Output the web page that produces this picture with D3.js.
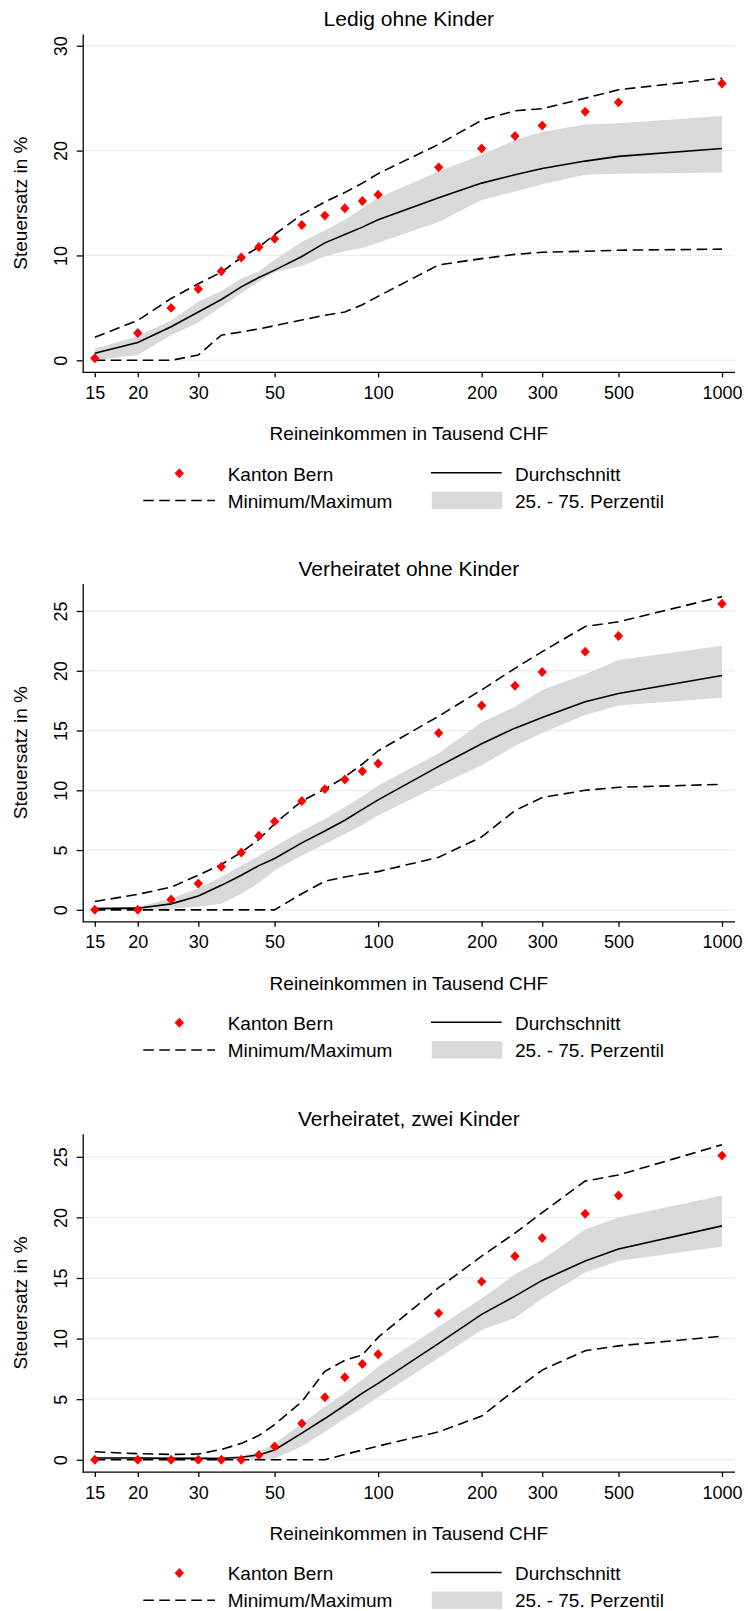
<!DOCTYPE html>
<html><head><meta charset="utf-8">
<script src="https://cdn.jsdelivr.net/npm/d3@7"></script>
<style>
body{margin:0;background:#fff}
svg text{font-family:"Liberation Sans",Arial,Helvetica,sans-serif;fill:#000}
</style>
</head><body>
<svg id="chart" width="748" height="1611"></svg>
<script>
// ---------- data ----------
const incomes = [15,20,25,30,35,40,45,50,60,70,80,90,100,150,200,250,300,400,500,1000];
const panelTitles = ["Ledig ohne Kinder","Verheiratet ohne Kinder","Verheiratet, zwei Kinder"];

const bern1 = [0.2,2.6,5.0,6.8,8.5,9.8,10.8,11.6,12.9,13.8,14.5,15.2,15.8,18.4,20.2,21.4,22.4,23.7,24.6,26.4];
const max1  = [2.2,3.8,5.9,7.3,8.4,9.8,10.8,12.0,13.9,15.1,16.0,16.9,17.8,20.6,22.9,23.8,24.0,25.0,25.8,26.9];
const min1  = [0,0,0,0.5,2.4,2.7,3.0,3.3,3.85,4.3,4.6,5.3,6.1,9.1,9.7,10.1,10.3,10.4,10.5,10.6];
const mean1 = [0.67,1.7,3.2,4.6,5.8,7.0,7.9,8.6,9.9,11.2,12.0,12.7,13.4,15.5,16.9,17.7,18.3,19.0,19.45,20.2];
const p75_1 = [1.1,2.3,3.8,5.6,6.6,7.8,8.5,9.6,11.3,12.4,13.4,14.5,15.5,18.0,19.6,21.0,21.8,22.5,22.6,23.3];
const p25_1 = [0,0.5,2.4,3.6,5.1,6.4,7.5,8.4,9.0,9.9,10.4,10.7,11.2,13.2,15.3,16.1,16.8,17.7,17.8,17.9];

const bern2 = [0,0,0.86,2.2,3.6,4.8,6.2,7.4,9.1,10.1,10.9,11.6,12.25,14.8,17.1,18.75,19.9,21.6,22.9,25.6];
const max2  = [0.7,1.3,1.9,2.9,3.8,4.8,5.9,7.2,9.1,10.1,11.1,12.2,13.3,16.2,18.4,20.2,21.6,23.7,24.1,26.2];
const min2  = [0,0,0,0,0,0,0,0,1.35,2.4,2.75,3.0,3.2,4.4,6.1,8.3,9.4,10.0,10.25,10.5];
const mean2 = [0.1,0.14,0.5,1.15,2.05,2.9,3.7,4.3,5.6,6.6,7.5,8.4,9.2,12.0,13.9,15.2,16.1,17.4,18.1,19.6];
const p75_2 = [0.2,0.25,0.95,1.8,2.75,3.7,4.5,5.3,6.6,7.6,8.6,9.5,10.4,13.1,15.7,17.0,18.4,19.7,20.9,22.1];
const p25_2 = [0,0,0.1,0.25,0.5,1.35,2.25,3.3,4.55,5.5,6.35,7.1,7.9,10.4,12.1,13.7,14.8,16.3,17.1,17.75];

const bern3 = [0,0,0,0,0,0,0.4,1.1,3.0,5.15,6.8,7.9,8.7,12.1,14.7,16.8,18.3,20.3,21.8,25.1];
const max3  = [0.66,0.5,0.44,0.47,0.85,1.35,2.0,2.9,4.8,7.3,8.2,8.65,10.1,14.2,16.8,18.7,20.4,23.0,23.5,26.0];
const min3  = [0,0,0,0,0,0,0,0,0,0,0.44,0.8,1.13,2.3,3.6,5.75,7.4,9.0,9.4,10.2];
const mean3 = [0.14,0.14,0.11,0.11,0.1,0.2,0.4,0.8,2.2,3.4,4.5,5.5,6.3,9.6,12.0,13.5,14.8,16.4,17.4,19.3];
const p75_3 = [0.25,0.2,0.2,0.2,0.2,0.3,0.66,1.35,3.0,4.4,5.5,6.6,7.7,11.0,13.3,15.3,16.5,19.0,20.0,21.8];
const p25_3 = [0,0,0,0,0,0,0,0.1,1.1,2.3,3.4,4.3,5.15,8.4,10.7,11.7,13.3,15.45,16.4,17.6];

const xTicks = [15,20,30,50,100,200,300,500,1000];
const yTicks1 = [0,10,20,30];
const yTicks23 = [0,5,10,15,20,25];
const yDomains = [[-1.144,31.12],[-1.0,27.3],[-1.02,26.9]];

const xLabel = "Reineinkommen in Tausend CHF";
const yLabel = "Steuersatz in %";
const legendLabels = ["Kanton Bern","Durchschnitt","Minimum/Maximum","25. - 75. Perzentil"];

// ---------- panels ----------
const panels = [
  {title: panelTitles[0], bern: bern1, max: max1, min: min1, mean: mean1, p75: p75_1, p25: p25_1, yTicks: yTicks1, yDomain: yDomains[0]},
  {title: panelTitles[1], bern: bern2, max: max2, min: min2, mean: mean2, p75: p75_2, p25: p25_2, yTicks: yTicks23, yDomain: yDomains[1]},
  {title: panelTitles[2], bern: bern3, max: max3, min: min3, mean: mean3, p75: p75_3, p25: p25_3, yTicks: yTicks23, yDomain: yDomains[2]}
];

// ---------- layout ----------
const offsets = [0, 549.5, 1099.8];
const L = 82.7, R = 735, T = 34, B = 372.3;
const DASH = "10.5,5.5";
const GRID = "#e8f0f2";
const BAND = "#d9d9d9";
const RED = "#ff0000";

const svg = d3.select("#chart");
const x = d3.scaleLog().domain([15, 1000]).range([94.8, 722]);

const diamondType = {
  draw(ctx, size) {
    const s = Math.sqrt(size) / 2;
    const h = s * 1.05, w = s * 0.98;
    ctx.moveTo(0, -h); ctx.lineTo(w, 0); ctx.lineTo(0, h); ctx.lineTo(-w, 0); ctx.closePath();
  }
};
const diamond = d3.symbol().type(diamondType).size(90);

panels.forEach((p, i) => {
  const g = svg.append("g").attr("transform", `translate(0,${offsets[i]})`);
  const y = d3.scaleLinear().domain(p.yDomain).range([B, T]);
  const rows = incomes.map((inc, k) => ({inc, bern: p.bern[k], max: p.max[k], min: p.min[k], mean: p.mean[k], p75: p.p75[k], p25: p.p25[k]}));

  // title
  g.append("text").attr("x", (L + R) / 2).attr("y", 26).attr("text-anchor", "middle")
    .style("font-size", "21px").text(p.title);

  // gridlines
  g.append("g").selectAll("line").data(p.yTicks).join("line")
    .attr("x1", L).attr("x2", R).attr("y1", d => y(d)).attr("y2", d => y(d))
    .attr("stroke", GRID).attr("stroke-width", 1.3);

  // band
  g.append("path").datum(rows)
    .attr("d", d3.area().x(d => x(d.inc)).y0(d => y(d.p25)).y1(d => y(d.p75)))
    .attr("fill", BAND);

  // min / max
  ["max", "min"].forEach(key => {
    g.append("path").datum(rows)
      .attr("d", d3.line().x(d => x(d.inc)).y(d => y(d[key])))
      .attr("fill", "none").attr("stroke", "#000").attr("stroke-width", 1.6)
      .attr("stroke-dasharray", DASH);
  });

  // mean
  g.append("path").datum(rows)
    .attr("d", d3.line().x(d => x(d.inc)).y(d => y(d.mean)))
    .attr("fill", "none").attr("stroke", "#000").attr("stroke-width", 1.6);

  // Kanton Bern
  g.append("g").selectAll("path").data(rows).join("path")
    .attr("d", diamond)
    .attr("transform", d => `translate(${x(d.inc)},${y(d.bern)})`)
    .attr("fill", RED);

  // y axis
  const ya = g.append("g").attr("transform", `translate(${L},0)`)
    .call(d3.axisLeft(y).tickValues(p.yTicks).tickSize(6).tickSizeOuter(0).tickFormat(d3.format("d")));
  ya.select(".domain").attr("stroke", "#000").attr("stroke-width", 1.3);
  ya.selectAll(".tick line").attr("stroke", "#000").attr("stroke-width", 1.3);
  ya.selectAll(".tick text")
    .attr("transform", "rotate(-90)").attr("x", 0).attr("y", -15.7).attr("dy", 0)
    .attr("text-anchor", "middle").style("font-size", "18px")
    .style("font-family", '"Liberation Sans",Arial,Helvetica,sans-serif').attr("fill", "#000");

  // x axis
  const xa = g.append("g").attr("transform", `translate(0,${B})`)
    .call(d3.axisBottom(x).tickValues(xTicks).tickSize(5).tickSizeOuter(0).tickFormat(d3.format("d")));
  xa.select(".domain").remove();
  xa.append("line").attr("x1", L).attr("x2", R).attr("y1", 0).attr("y2", 0)
    .attr("stroke", "#000").attr("stroke-width", 1.3);
  xa.selectAll(".tick line").attr("stroke", "#000").attr("stroke-width", 1.3);
  xa.selectAll(".tick text").attr("y", 26.7).attr("dy", 0)
    .style("font-size", "18px")
    .style("font-family", '"Liberation Sans",Arial,Helvetica,sans-serif').attr("fill", "#000");

  // axis titles
  g.append("text").attr("x", (L + R) / 2).attr("y", 440).attr("text-anchor", "middle")
    .style("font-size", "19px").text(xLabel);
  g.append("text").attr("transform", `translate(27,${(T + B) / 2}) rotate(-90)`)
    .attr("text-anchor", "middle").style("font-size", "19px").text(yLabel);

  // legend
  const lg = g.append("g");
  lg.append("path").attr("d", diamond).attr("transform", "translate(179.3,473.3)").attr("fill", RED);
  lg.append("text").attr("x", 227.7).attr("y", 480.7).style("font-size", "19px").text(legendLabels[0]);
  lg.append("line").attr("x1", 431).attr("x2", 501.7).attr("y1", 472.7).attr("y2", 472.7)
    .attr("stroke", "#000").attr("stroke-width", 1.6);
  lg.append("text").attr("x", 515).attr("y", 480.7).style("font-size", "19px").text(legendLabels[1]);
  lg.append("line").attr("x1", 143.3).attr("x2", 215).attr("y1", 500.5).attr("y2", 500.5)
    .attr("stroke", "#000").attr("stroke-width", 1.6).attr("stroke-dasharray", DASH);
  lg.append("text").attr("x", 227.7).attr("y", 507.7).style("font-size", "19px").text(legendLabels[2]);
  lg.append("rect").attr("x", 431.7).attr("y", 491.7).attr("width", 70.6).attr("height", 17.3).attr("fill", BAND);
  lg.append("text").attr("x", 515).attr("y", 507.7).style("font-size", "19px").text(legendLabels[3]);
});
</script>
</body></html>
